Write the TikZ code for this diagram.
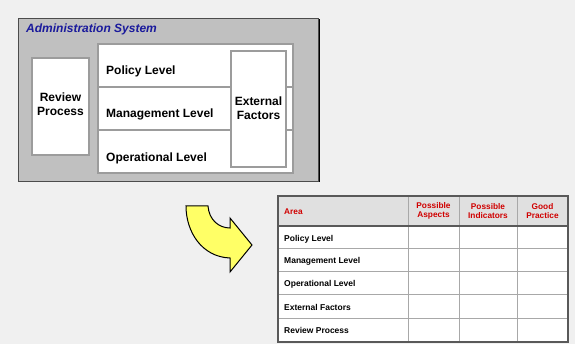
\documentclass[tikz,border=0pt]{standalone}
\usepackage{fontspec}
\setmainfont{Liberation Sans}
\begin{document}
\begin{tikzpicture}[x=1pt,y=-1pt,
  lbl/.style={font=\bfseries\fontsize{12}{14}\selectfont, text=black, inner sep=0pt},
  cell/.style={font=\bfseries\fontsize{8.5}{9.5}\selectfont, text=black, inner sep=0pt, anchor=west},
  head/.style={font=\bfseries\fontsize{8.3}{9.5}\selectfont, text=hdred, inner sep=0pt, align=center},
  panel/.style={draw=framegray, line width=2.6pt, fill=white},
  gridline/.style={draw=gridgray, line width=1pt},
]
\definecolor{bg}{HTML}{F0F0F0}
\definecolor{boxgray}{HTML}{C0C0C0}
\definecolor{framegray}{HTML}{9C9C9C}
\definecolor{gridgray}{HTML}{A8A8A8}
\definecolor{titleblue}{HTML}{1A1A9C}
\definecolor{hdred}{HTML}{D00000}
\definecolor{arrowyellow}{HTML}{FFFF66}
\definecolor{headfill}{HTML}{E0E0E0}

% canvas
\fill[bg] (0,0) rectangle (575,344);
\useasboundingbox (0,0) rectangle (575,344);

% administration system box with drop shadow
\fill[black] (19.5,19.5) rectangle (319.5,182.5);
\draw[draw=black!70, fill=boxgray, line width=0.8pt] (18,18) rectangle (318,181);
\node[font=\bfseries\itshape\fontsize{12}{14}\selectfont, text=titleblue, anchor=base west, inner sep=0pt] (title) at (26,33) {Administration System};

% review process
\draw[panel] (32,58) rectangle (89,155);
\node[lbl, align=center] (review) at (60.5,104) {Review\\Process};

% level stack
\draw[panel] (98,44) rectangle (293,173);
\draw[draw=framegray, line width=2.6pt] (98,87) -- (293,87);
\draw[draw=framegray, line width=2.6pt] (98,130) -- (293,130);
\node[lbl, anchor=base west] (policy) at (106,75) {Policy Level};
\node[lbl, anchor=base west] (mgmt) at (106,118) {Management Level};
\node[lbl, anchor=base west] (oper) at (106,162) {Operational Level};

% external factors
\draw[panel] (231,51) rectangle (286,167);
\node[lbl, align=center] (external) at (258.5,108) {External\\Factors};

% curved arrow
\draw[fill=arrowyellow, draw=black, line width=1pt, line join=miter]
  (186,206) -- (208,206)
  .. controls (209,220) and (219,228) .. (230,228)
  -- (230,218) -- (252,245) -- (230,272) -- (230,258)
  .. controls (202,257) and (186,232) .. (186,206) -- cycle;

% table
\fill[headfill] (278,196) rectangle (568,226);
\fill[white] (278,226) rectangle (568,342);
\foreach \yy in {249,272,295,318} \draw[gridline] (278,\yy) -- (568,\yy);
\foreach \xx in {408,459,517} \draw[gridline] (\xx,196) -- (\xx,342);
\draw[draw=black!65, line width=1.4pt] (278,226) -- (568,226);
\draw[draw=black!65, line width=1.8pt] (278,196) rectangle (568,342);

\node[head, anchor=west] (area) at (284,212) {Area};
\node[head] (aspects) at (433.5,211) {Possible\\Aspects};
\node[head] (indicators) at (488,211) {Possible\\Indicators};
\node[head] (good) at (542.5,211) {Good\\Practice};

\node[cell] (r1) at (284,239) {Policy Level};
\node[cell] (r2) at (284,261) {Management Level};
\node[cell] (r3) at (284,284) {Operational Level};
\node[cell] (r4) at (284,307) {External Factors};
\node[cell] (r5) at (284,330) {Review Process};
\end{tikzpicture}
\end{document}
